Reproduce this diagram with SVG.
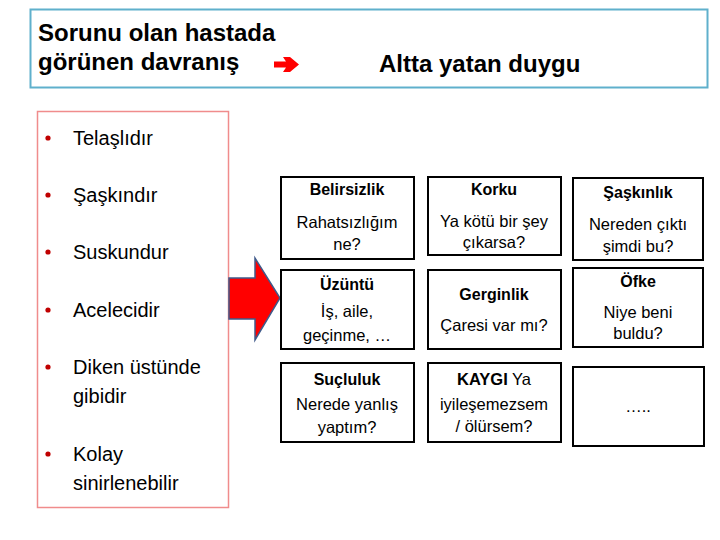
<svg xmlns="http://www.w3.org/2000/svg" width="720" height="540" viewBox="0 0 720 540">
<style>
text{font-family:"Liberation Sans",Arial,sans-serif;fill:#000}
.h{font-size:24px;font-weight:bold}
.li{font-size:20px}
.t{font-size:16px;font-weight:bold;text-anchor:middle}
.b{font-size:16.5px;text-anchor:middle}
.box{fill:#fff;stroke:#000;stroke-width:2}
.dot{fill:#c00000}
</style>
<rect width="720" height="540" fill="#fff"/>
<g id="title">
<rect x="30.5" y="9.5" width="677" height="78" fill="#fff" stroke="#5fb0cc" stroke-width="2"/>
<text class="h" x="38" y="41">Sorunu olan hastada</text>
<text class="h" x="38" y="70">görünen davranış</text>
<polygon points="274,61.5 286,61.5 283,57 290,57 299,64.5 290,72 283,72 286,67.5 274,67.5" fill="#ff0000"/>
<text class="h" x="379" y="72">Altta yatan duygu</text>
</g>
<g id="behaviours">
<rect x="37.5" y="111.5" width="191" height="396" fill="#fff" stroke="#f08c8c" stroke-width="1.5"/>
<circle class="dot" cx="48" cy="138" r="2.6"/>
<text class="li" x="73" y="145">Telaşlıdır</text>
<circle class="dot" cx="48" cy="195" r="2.6"/>
<text class="li" x="73" y="202">Şaşkındır</text>
<circle class="dot" cx="48" cy="252" r="2.6"/>
<text class="li" x="73" y="259">Suskundur</text>
<circle class="dot" cx="48" cy="310" r="2.6"/>
<text class="li" x="73" y="317">Acelecidir</text>
<circle class="dot" cx="48" cy="367" r="2.6"/>
<text class="li" x="73" y="374">Diken üstünde</text>
<text class="li" x="73" y="403">gibidir</text>
<circle class="dot" cx="48" cy="454" r="2.6"/>
<text class="li" x="73" y="461">Kolay</text>
<text class="li" x="73" y="490">sinirlenebilir</text>
</g>
<g id="connectors">
<polygon points="229,278 255,278 255,258 280,298 255,340 255,319 229,319" fill="#ff0000" stroke="#3f5a8a" stroke-width="1.5" stroke-linejoin="miter"/>
</g>
<g id="belirsizlik">
<rect class="box" x="281" y="177" width="133" height="82"/>
<text class="t" x="347" y="195">Belirsizlik</text>
<text class="b" x="347" y="228">Rahatsızlığım</text>
<text class="b" x="347" y="250">ne?</text>
</g>
<g id="korku">
<rect class="box" x="428" y="177" width="133" height="78"/>
<text class="t" x="494" y="195">Korku</text>
<text class="b" x="494" y="227">Ya kötü bir şey</text>
<text class="b" x="494" y="248">çıkarsa?</text>
</g>
<g id="saskinlik">
<rect class="box" x="573" y="178" width="130" height="82"/>
<text class="t" x="638" y="198">Şaşkınlık</text>
<text class="b" x="638" y="230">Nereden çıktı</text>
<text class="b" x="638" y="252">şimdi bu?</text>
</g>
<g id="uzuntu">
<rect class="box" x="281" y="270" width="133" height="79"/>
<text class="t" x="347" y="290">Üzüntü</text>
<text class="b" x="347" y="317">İş, aile,</text>
<text class="b" x="347" y="341">geçinme, …</text>
</g>
<g id="gerginlik">
<rect class="box" x="428" y="270" width="133" height="79"/>
<text class="t" x="494" y="300">Gerginlik</text>
<text class="b" x="494" y="331">Çaresi var mı?</text>
</g>
<g id="ofke">
<rect class="box" x="573" y="268" width="130" height="79"/>
<text class="t" x="638" y="287">Öfke</text>
<text class="b" x="638" y="318">Niye beni</text>
<text class="b" x="638" y="339">buldu?</text>
</g>
<g id="sucluluk">
<rect class="box" x="281" y="363" width="133" height="79"/>
<text class="t" x="347" y="385">Suçluluk</text>
<text class="b" x="347" y="410">Nerede yanlış</text>
<text class="b" x="347" y="433">yaptım?</text>
</g>
<g id="kaygi">
<rect class="box" x="428" y="363" width="133" height="79"/>
<text class="b" x="494" y="385"><tspan font-weight="bold">KAYGI</tspan> Ya</text>
<text class="b" x="494" y="410">iyileşemezsem</text>
<text class="b" x="494" y="432">/ ölürsem?</text>
</g>
<g id="diger">
<rect class="box" x="573" y="367" width="131" height="79"/>
<text class="b" x="638" y="412">…..</text>
</g>
</svg>
